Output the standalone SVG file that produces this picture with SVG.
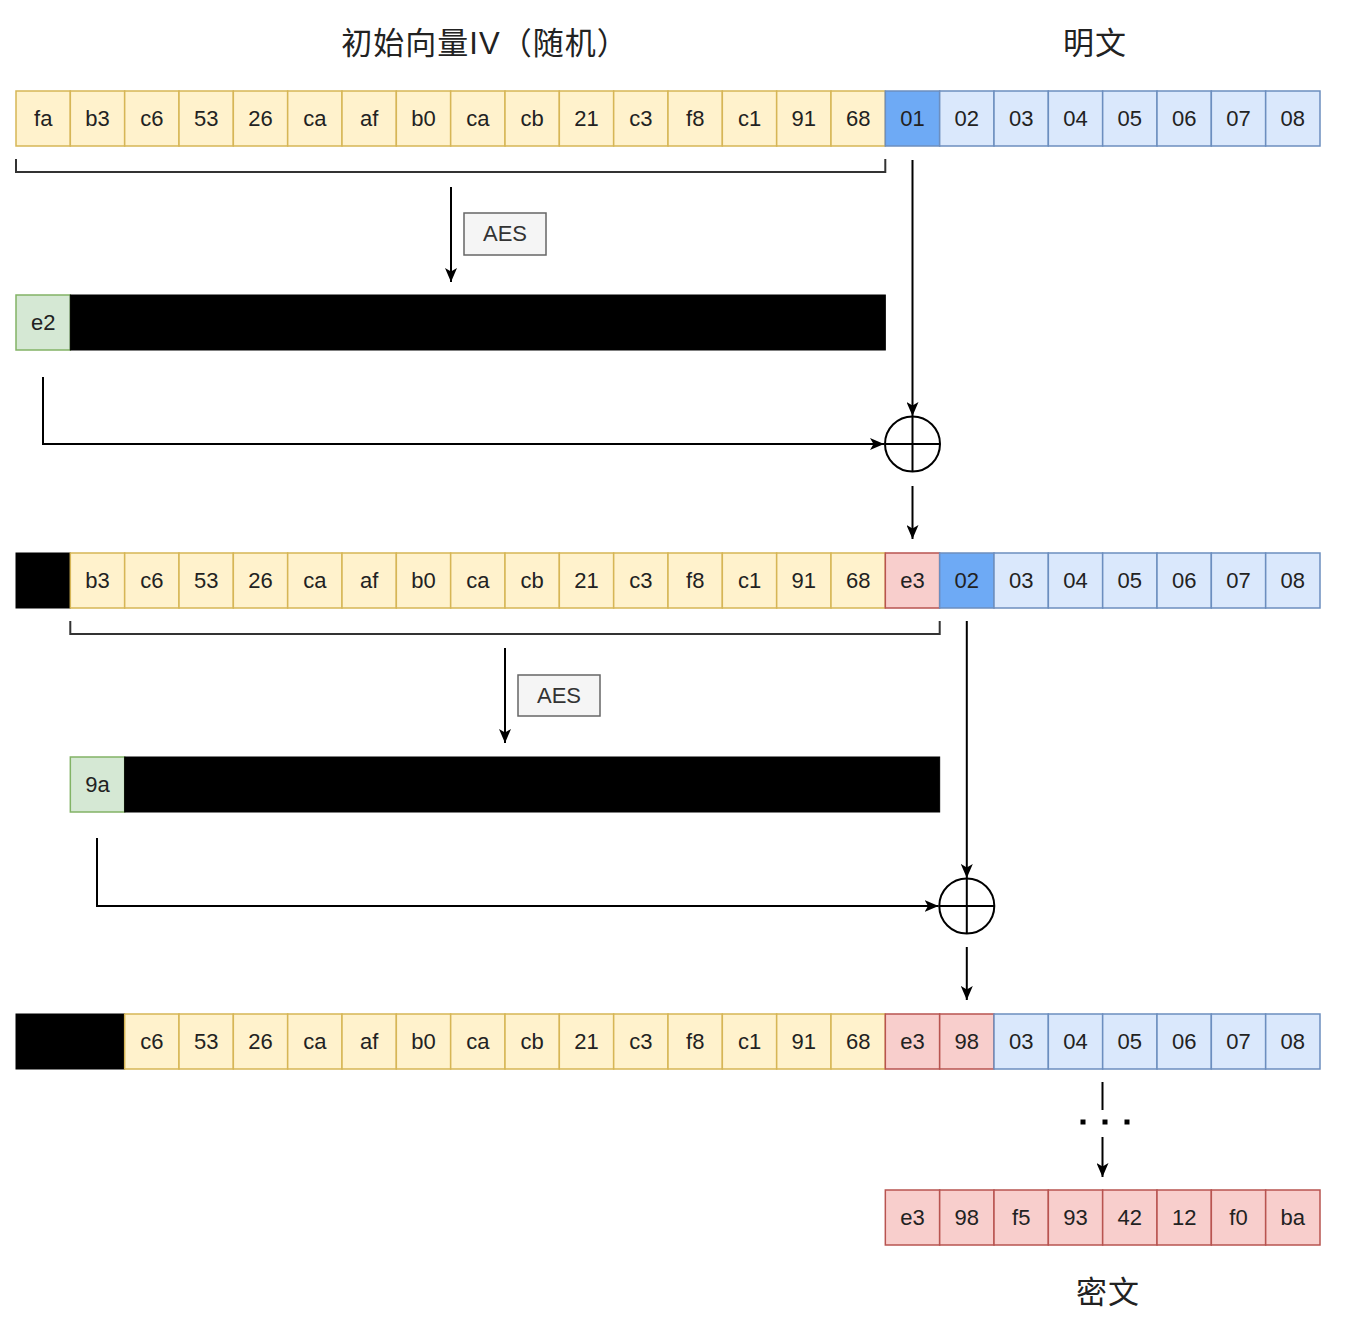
<svg xmlns="http://www.w3.org/2000/svg" width="1362" height="1324" viewBox="0 0 1362 1324">
<defs>
<marker id="arr" viewBox="0 0 14 12" refX="14" refY="6" markerWidth="14" markerHeight="12" markerUnits="userSpaceOnUse" orient="auto">
<path d="M0,0 L14,6 L0,12 L3.5,6 Z" fill="#000"/>
</marker>
</defs>
<style>
rect{stroke-width:1.5}
.y{fill:#fff2cc;stroke:#d6b656}
.b{fill:#dae8fc;stroke:#6c8ebf}
.bd{fill:#6eaaf5;stroke:#6c8ebf}
.r{fill:#f8cecc;stroke:#b85450}
.g{fill:#d5e8d4;stroke:#82b366}
.k{fill:#000;stroke:#000;stroke-width:1}
.aes{fill:#f5f5f5;stroke:#666666}
text{font-family:"Liberation Sans",Arial,"Noto Sans CJK SC",sans-serif;font-size:22px;fill:#222;text-anchor:middle}
.t{font-size:31px;fill:#222;letter-spacing:1px}
.at{fill:#333}
.ln{fill:none;stroke:#000;stroke-width:2}
.br{fill:none;stroke:#333;stroke-width:2}
</style>

<g id="titles">
<text class="t" x="485" y="54">初始向量IV（随机）</text>
<text class="t" x="1095" y="54">明文</text>
<text class="t" x="1108" y="1303">密文</text>
</g>

<g id="row1">
<g id="r1c0"><rect class="y" x="16" y="91" width="54.33" height="55"/><text x="43.2" y="126">fa</text></g>
<g id="r1c1"><rect class="y" x="70.33" y="91" width="54.33" height="55"/><text x="97.5" y="126">b3</text></g>
<g id="r1c2"><rect class="y" x="124.67" y="91" width="54.33" height="55"/><text x="151.8" y="126">c6</text></g>
<g id="r1c3"><rect class="y" x="179" y="91" width="54.33" height="55"/><text x="206.2" y="126">53</text></g>
<g id="r1c4"><rect class="y" x="233.33" y="91" width="54.33" height="55"/><text x="260.5" y="126">26</text></g>
<g id="r1c5"><rect class="y" x="287.67" y="91" width="54.33" height="55"/><text x="314.8" y="126">ca</text></g>
<g id="r1c6"><rect class="y" x="342" y="91" width="54.33" height="55"/><text x="369.2" y="126">af</text></g>
<g id="r1c7"><rect class="y" x="396.33" y="91" width="54.33" height="55"/><text x="423.5" y="126">b0</text></g>
<g id="r1c8"><rect class="y" x="450.67" y="91" width="54.33" height="55"/><text x="477.8" y="126">ca</text></g>
<g id="r1c9"><rect class="y" x="505" y="91" width="54.33" height="55"/><text x="532.2" y="126">cb</text></g>
<g id="r1c10"><rect class="y" x="559.33" y="91" width="54.33" height="55"/><text x="586.5" y="126">21</text></g>
<g id="r1c11"><rect class="y" x="613.67" y="91" width="54.33" height="55"/><text x="640.8" y="126">c3</text></g>
<g id="r1c12"><rect class="y" x="668" y="91" width="54.33" height="55"/><text x="695.2" y="126">f8</text></g>
<g id="r1c13"><rect class="y" x="722.33" y="91" width="54.33" height="55"/><text x="749.5" y="126">c1</text></g>
<g id="r1c14"><rect class="y" x="776.67" y="91" width="54.33" height="55"/><text x="803.8" y="126">91</text></g>
<g id="r1c15"><rect class="y" x="831" y="91" width="54.33" height="55"/><text x="858.2" y="126">68</text></g>
<g id="r1c16"><rect class="bd" x="885.33" y="91" width="54.33" height="55"/><text x="912.5" y="126">01</text></g>
<g id="r1c17"><rect class="b" x="939.67" y="91" width="54.33" height="55"/><text x="966.8" y="126">02</text></g>
<g id="r1c18"><rect class="b" x="994" y="91" width="54.33" height="55"/><text x="1021.2" y="126">03</text></g>
<g id="r1c19"><rect class="b" x="1048.33" y="91" width="54.33" height="55"/><text x="1075.5" y="126">04</text></g>
<g id="r1c20"><rect class="b" x="1102.67" y="91" width="54.33" height="55"/><text x="1129.8" y="126">05</text></g>
<g id="r1c21"><rect class="b" x="1157" y="91" width="54.33" height="55"/><text x="1184.2" y="126">06</text></g>
<g id="r1c22"><rect class="b" x="1211.33" y="91" width="54.33" height="55"/><text x="1238.5" y="126">07</text></g>
<g id="r1c23"><rect class="b" x="1265.67" y="91" width="54.33" height="55"/><text x="1292.8" y="126">08</text></g>
</g>

<g id="aes1"><rect class="aes" x="464" y="213" width="82" height="42"/><text class="at" x="505" y="241">AES</text></g>

<g id="row2">
<g id="r2e2"><rect class="g" x="16" y="295" width="54.33" height="55"/><text x="43.2" y="330">e2</text></g>
<g id="r2blk"><rect class="k" x="70.33" y="295" width="815" height="55"/></g>
</g>

<g id="xor1"><circle cx="912.5" cy="444" r="27.5" fill="none" stroke="#000" stroke-width="2"/><path d="M885,444 H940 M912.5,416.5 V471.5" stroke="#000" stroke-width="2"/></g>

<g id="row3">
<g id="r3blk"><rect class="k" x="16" y="553" width="54.33" height="55"/></g>
<g id="r3c1"><rect class="y" x="70.33" y="553" width="54.33" height="55"/><text x="97.5" y="588">b3</text></g>
<g id="r3c2"><rect class="y" x="124.67" y="553" width="54.33" height="55"/><text x="151.8" y="588">c6</text></g>
<g id="r3c3"><rect class="y" x="179" y="553" width="54.33" height="55"/><text x="206.2" y="588">53</text></g>
<g id="r3c4"><rect class="y" x="233.33" y="553" width="54.33" height="55"/><text x="260.5" y="588">26</text></g>
<g id="r3c5"><rect class="y" x="287.67" y="553" width="54.33" height="55"/><text x="314.8" y="588">ca</text></g>
<g id="r3c6"><rect class="y" x="342" y="553" width="54.33" height="55"/><text x="369.2" y="588">af</text></g>
<g id="r3c7"><rect class="y" x="396.33" y="553" width="54.33" height="55"/><text x="423.5" y="588">b0</text></g>
<g id="r3c8"><rect class="y" x="450.67" y="553" width="54.33" height="55"/><text x="477.8" y="588">ca</text></g>
<g id="r3c9"><rect class="y" x="505" y="553" width="54.33" height="55"/><text x="532.2" y="588">cb</text></g>
<g id="r3c10"><rect class="y" x="559.33" y="553" width="54.33" height="55"/><text x="586.5" y="588">21</text></g>
<g id="r3c11"><rect class="y" x="613.67" y="553" width="54.33" height="55"/><text x="640.8" y="588">c3</text></g>
<g id="r3c12"><rect class="y" x="668" y="553" width="54.33" height="55"/><text x="695.2" y="588">f8</text></g>
<g id="r3c13"><rect class="y" x="722.33" y="553" width="54.33" height="55"/><text x="749.5" y="588">c1</text></g>
<g id="r3c14"><rect class="y" x="776.67" y="553" width="54.33" height="55"/><text x="803.8" y="588">91</text></g>
<g id="r3c15"><rect class="y" x="831" y="553" width="54.33" height="55"/><text x="858.2" y="588">68</text></g>
<g id="r3c16"><rect class="r" x="885.33" y="553" width="54.33" height="55"/><text x="912.5" y="588">e3</text></g>
<g id="r3c17"><rect class="bd" x="939.67" y="553" width="54.33" height="55"/><text x="966.8" y="588">02</text></g>
<g id="r3c18"><rect class="b" x="994" y="553" width="54.33" height="55"/><text x="1021.2" y="588">03</text></g>
<g id="r3c19"><rect class="b" x="1048.33" y="553" width="54.33" height="55"/><text x="1075.5" y="588">04</text></g>
<g id="r3c20"><rect class="b" x="1102.67" y="553" width="54.33" height="55"/><text x="1129.8" y="588">05</text></g>
<g id="r3c21"><rect class="b" x="1157" y="553" width="54.33" height="55"/><text x="1184.2" y="588">06</text></g>
<g id="r3c22"><rect class="b" x="1211.33" y="553" width="54.33" height="55"/><text x="1238.5" y="588">07</text></g>
<g id="r3c23"><rect class="b" x="1265.67" y="553" width="54.33" height="55"/><text x="1292.8" y="588">08</text></g>
</g>

<g id="aes2"><rect class="aes" x="518" y="675" width="82" height="41"/><text class="at" x="559" y="702.5">AES</text></g>

<g id="row4">
<g id="r49a"><rect class="g" x="70.33" y="757" width="54.33" height="55"/><text x="97.5" y="792">9a</text></g>
<g id="r4blk"><rect class="k" x="124.67" y="757" width="815" height="55"/></g>
</g>

<g id="xor2"><circle cx="966.8" cy="906" r="27.5" fill="none" stroke="#000" stroke-width="2"/><path d="M939.3,906 H994.3 M966.8,878.5 V933.5" stroke="#000" stroke-width="2"/></g>

<g id="row5">
<g id="r5blk"><rect class="k" x="16" y="1014" width="108.67" height="55"/></g>
<g id="r5c2"><rect class="y" x="124.67" y="1014" width="54.33" height="55"/><text x="151.8" y="1049">c6</text></g>
<g id="r5c3"><rect class="y" x="179" y="1014" width="54.33" height="55"/><text x="206.2" y="1049">53</text></g>
<g id="r5c4"><rect class="y" x="233.33" y="1014" width="54.33" height="55"/><text x="260.5" y="1049">26</text></g>
<g id="r5c5"><rect class="y" x="287.67" y="1014" width="54.33" height="55"/><text x="314.8" y="1049">ca</text></g>
<g id="r5c6"><rect class="y" x="342" y="1014" width="54.33" height="55"/><text x="369.2" y="1049">af</text></g>
<g id="r5c7"><rect class="y" x="396.33" y="1014" width="54.33" height="55"/><text x="423.5" y="1049">b0</text></g>
<g id="r5c8"><rect class="y" x="450.67" y="1014" width="54.33" height="55"/><text x="477.8" y="1049">ca</text></g>
<g id="r5c9"><rect class="y" x="505" y="1014" width="54.33" height="55"/><text x="532.2" y="1049">cb</text></g>
<g id="r5c10"><rect class="y" x="559.33" y="1014" width="54.33" height="55"/><text x="586.5" y="1049">21</text></g>
<g id="r5c11"><rect class="y" x="613.67" y="1014" width="54.33" height="55"/><text x="640.8" y="1049">c3</text></g>
<g id="r5c12"><rect class="y" x="668" y="1014" width="54.33" height="55"/><text x="695.2" y="1049">f8</text></g>
<g id="r5c13"><rect class="y" x="722.33" y="1014" width="54.33" height="55"/><text x="749.5" y="1049">c1</text></g>
<g id="r5c14"><rect class="y" x="776.67" y="1014" width="54.33" height="55"/><text x="803.8" y="1049">91</text></g>
<g id="r5c15"><rect class="y" x="831" y="1014" width="54.33" height="55"/><text x="858.2" y="1049">68</text></g>
<g id="r5c16"><rect class="r" x="885.33" y="1014" width="54.33" height="55"/><text x="912.5" y="1049">e3</text></g>
<g id="r5c17"><rect class="r" x="939.67" y="1014" width="54.33" height="55"/><text x="966.8" y="1049">98</text></g>
<g id="r5c18"><rect class="b" x="994" y="1014" width="54.33" height="55"/><text x="1021.2" y="1049">03</text></g>
<g id="r5c19"><rect class="b" x="1048.33" y="1014" width="54.33" height="55"/><text x="1075.5" y="1049">04</text></g>
<g id="r5c20"><rect class="b" x="1102.67" y="1014" width="54.33" height="55"/><text x="1129.8" y="1049">05</text></g>
<g id="r5c21"><rect class="b" x="1157" y="1014" width="54.33" height="55"/><text x="1184.2" y="1049">06</text></g>
<g id="r5c22"><rect class="b" x="1211.33" y="1014" width="54.33" height="55"/><text x="1238.5" y="1049">07</text></g>
<g id="r5c23"><rect class="b" x="1265.67" y="1014" width="54.33" height="55"/><text x="1292.8" y="1049">08</text></g>
</g>

<g id="row6">
<g id="r6c0"><rect class="r" x="885.33" y="1190" width="54.33" height="55"/><text x="912.5" y="1225">e3</text></g>
<g id="r6c1"><rect class="r" x="939.67" y="1190" width="54.33" height="55"/><text x="966.8" y="1225">98</text></g>
<g id="r6c2"><rect class="r" x="994" y="1190" width="54.33" height="55"/><text x="1021.2" y="1225">f5</text></g>
<g id="r6c3"><rect class="r" x="1048.33" y="1190" width="54.33" height="55"/><text x="1075.5" y="1225">93</text></g>
<g id="r6c4"><rect class="r" x="1102.67" y="1190" width="54.33" height="55"/><text x="1129.8" y="1225">42</text></g>
<g id="r6c5"><rect class="r" x="1157" y="1190" width="54.33" height="55"/><text x="1184.2" y="1225">12</text></g>
<g id="r6c6"><rect class="r" x="1211.33" y="1190" width="54.33" height="55"/><text x="1238.5" y="1225">f0</text></g>
<g id="r6c7"><rect class="r" x="1265.67" y="1190" width="54.33" height="55"/><text x="1292.8" y="1225">ba</text></g>
</g>

<g id="connectors">
<path class="br" d="M16,159 V172 H885.3 V159"/>
<path class="br" d="M70.3,621 V634 H939.7 V621"/>
<line class="ln" x1="451" y1="187" x2="451" y2="282" marker-end="url(#arr)"/>
<line class="ln" x1="505" y1="648" x2="505" y2="743" marker-end="url(#arr)"/>
<line class="ln" x1="912.5" y1="160" x2="912.5" y2="416" marker-end="url(#arr)"/>
<path class="ln" d="M43,377 V444 H884" marker-end="url(#arr)"/>
<line class="ln" x1="912.5" y1="486" x2="912.5" y2="539" marker-end="url(#arr)"/>
<line class="ln" x1="966.8" y1="621" x2="966.8" y2="878" marker-end="url(#arr)"/>
<path class="ln" d="M97,838 V906 H938.5" marker-end="url(#arr)"/>
<line class="ln" x1="966.8" y1="947" x2="966.8" y2="1000" marker-end="url(#arr)"/>
<line class="ln" x1="1102.5" y1="1082" x2="1102.5" y2="1110"/>
<g fill="#000"><rect x="1080.5" y="1119.5" width="5" height="5"/><rect x="1102.5" y="1119.5" width="5" height="5"/><rect x="1124.5" y="1119.5" width="5" height="5"/></g>
<line class="ln" x1="1102.5" y1="1137" x2="1102.5" y2="1177" marker-end="url(#arr)"/>
</g>
</svg>
